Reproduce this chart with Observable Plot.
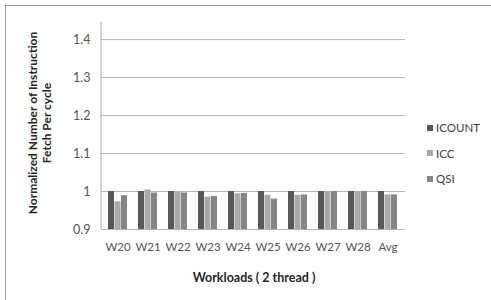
<!DOCTYPE html>
<html>
<head>
<meta charset="utf-8">
<script src="https://cdn.jsdelivr.net/npm/d3@7"></script>
<script src="https://cdn.jsdelivr.net/npm/@observablehq/plot@0.6"></script>
<style>
  html, body { margin: 0; padding: 0; background: #fff; overflow: hidden; }
  #wrap { position: relative; width: 491px; height: 300px; overflow: hidden; font-family: Lato, "Open Sans", sans-serif; }
  #border { position: absolute; left: 5px; top: 5px; width: 520px; height: 330px; border: 1px solid #9a9a9a; box-sizing: border-box; }
  #chart { position: absolute; left: 0; top: 0; }
  #ylabel { position: absolute; left: 39px; top: 123px; width: 240px; transform: translate(-50%, -50%) rotate(-90deg);
            text-align: center; font-weight: bold; font-size: 12px; line-height: 13.5px; color: #262626; white-space: nowrap; }
  #xlabel { position: absolute; left: 254px; top: 277px; transform: translate(-50%, -50%); white-space: nowrap;
            font-weight: bold; font-size: 12.5px; color: #262626; }
  #legend { position: absolute; left: 427px; top: 115px; font-size: 11.5px; color: #404040; }
  .item { display: flex; align-items: center; height: 25.5px; }
  .sw { width: 6px; height: 6px; margin-right: 3px; }
</style>
</head>
<body>
<div id="wrap">
  <div id="border"></div>
  <div id="chart"></div>
  <div id="ylabel">Normalized Number of Instruction<br>Fetch Per cycle</div>
  <div id="xlabel">Workloads ( 2 thread )</div>
  <div id="legend"></div>
</div>
<script>
const workloads = ["W20", "W21", "W22", "W23", "W24", "W25", "W26", "W27", "W28", "Avg"];
const seriesNames = ["ICOUNT", "ICC", "QSI"];
const seriesColors = ["#585858", "#a9a9a9", "#868686"];
const icount = [1, 1, 1, 1, 1, 1, 1, 1, 1, 1];
const icc    = [0.973, 1.004, 0.998, 0.985, 0.994, 0.990, 0.990, 1, 1, 0.991];
const qsi    = [0.989, 0.996, 0.996, 0.987, 0.995, 0.980, 0.991, 1, 1, 0.991];
const yTicks = [0.9, 1, 1.1, 1.2, 1.3, 1.4];
const yMax = 1.445;

const values = [icount, icc, qsi];
const W = 491, H = 300;
const mL = 101, mR = 86, mT = 22, mB = 71;
const padInner = 0.36;
const step = (W - mL - mR) / workloads.length;
const third = step * (1 - padInner) / 3;

const barMarks = values.map((vals, i) =>
  Plot.barY(workloads.map((w, j) => ({workload: w, value: vals[j]})), {
    x: "workload",
    y1: yTicks[0],
    y2: "value",
    fill: seriesColors[i],
    insetLeft: i * third,
    insetRight: (2 - i) * third
  })
);

const chart = Plot.plot({
  width: W,
  height: H,
  marginLeft: mL,
  marginRight: mR,
  marginTop: mT,
  marginBottom: mB,
  style: {fontFamily: "Lato, 'Open Sans', sans-serif", fontSize: "11px", background: "transparent"},
  x: {domain: workloads, paddingInner: padInner, paddingOuter: padInner / 2, label: null},
  y: {domain: [yTicks[0], yMax], label: null},
  marks: [
    Plot.ruleY(yTicks, {stroke: "#b4b4b4", strokeWidth: 1}),
    ...barMarks,
    Plot.axisY({ticks: yTicks, tickSize: 0, tickPadding: 11, tickFormat: d => String(d), color: "#555555", fontSize: 12.5, label: null}),
    Plot.axisX({tickSize: 0, tickPadding: 13, color: "#555555", fontSize: 11.5, label: null})
  ]
});

// vertical axis line at the left edge of the plot area
const xr = chart.scale("x").range;
const yr = chart.scale("y").range;
d3.select(chart).append("line")
  .attr("x1", xr[0]).attr("x2", xr[0])
  .attr("y1", yr[0]).attr("y2", yr[1])
  .attr("stroke", "#a8a8a8");

document.getElementById("chart").appendChild(chart);

const legend = d3.select("#legend");
seriesNames.forEach((n, i) => {
  const it = legend.append("div").attr("class", "item");
  it.append("div").attr("class", "sw").style("background", seriesColors[i]);
  it.append("span").text(n);
});
</script>
</body>
</html>
